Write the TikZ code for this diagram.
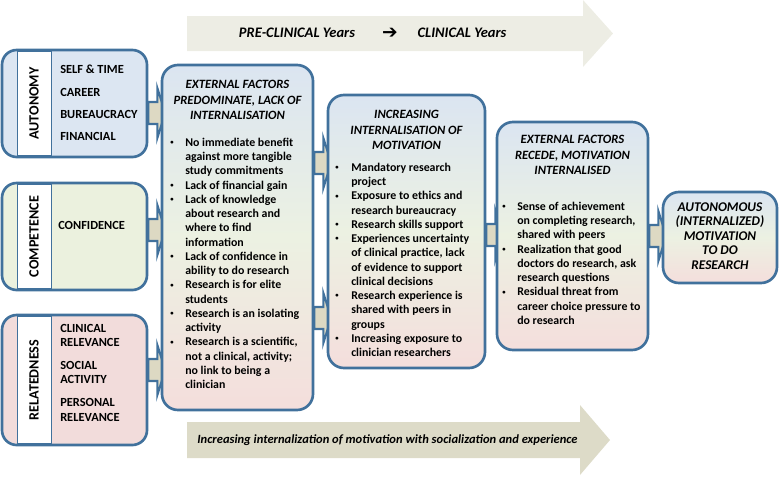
\documentclass[tikz,border=0pt]{standalone}
\usepackage{fontspec}
\setmainfont{Carlito}
\newfontfamily\dingfont{DejaVu Sans}
\usetikzlibrary{fit,backgrounds}

\definecolor{boxline}{RGB}{65,113,156}
\definecolor{autofill}{RGB}{220,230,242}
\definecolor{compfill}{RGB}{235,241,222}
\definecolor{relfill}{RGB}{242,220,219}
\definecolor{stagetop}{RGB}{219,229,241}
\definecolor{stagemid}{RGB}{236,241,226}
\definecolor{stagebot}{RGB}{244,222,220}
\definecolor{arrowfill}{RGB}{221,217,195}
\definecolor{timefill}{RGB}{237,237,228}
\definecolor{growfill}{RGB}{221,219,200}

\newcommand{\bul}{\raisebox{0.3ex}{\fontsize{5}{5}\selectfont\textbullet} &}
\newcommand{\blockarrow}[2]{\draw[blockarr] (#1.east |- 0,#2) ++(0,-11) -- ++(9,0) -- ++(0,-14) -- ++(8,25) -- ++(-8,25) -- ++(0,-14) -- ++(-9,0) -- cycle;}

\tikzset{
  needbox/.style={draw=boxline, line width=2pt, rounded corners=11pt, inner sep=0pt, fill=#1},
  stagebox/.style={draw=boxline, line width=2pt, rounded corners=12pt, inner sep=0pt,
                   top color=stagetop, bottom color=stagebot, middle color=stagemid},
  namestrip/.style={draw=boxline, line width=0.7pt, fill=white, inner sep=0pt},
  needname/.style={rotate=90, inner sep=0pt, font=\bfseries\fontsize{10.6}{11}\selectfont},
  needitems/.style={anchor=west, inner sep=0pt, font=\bfseries\fontsize{9.3}{10.7}\selectfont},
  stagehead/.style={anchor=north, inner sep=0pt, font=\bfseries\itshape\fontsize{9.5}{11.4}\selectfont},
  stageitems/.style={anchor=north west, inner sep=0pt, font=\bfseries\fontsize{8.9}{10.7}\selectfont},
  blockarr/.style={draw=boxline, line width=1.6pt, fill=arrowfill, line join=miter},
  bandtext/.style={inner sep=0pt, font=\bfseries\itshape\fontsize{10.9}{12}\selectfont},
}

\begin{document}
\begin{tikzpicture}[x=0.75pt,y=-0.75pt]
  \useasboundingbox (0,0) rectangle (779,476);

  % time bands
  \fill[timefill] (187,16) -- (583,16) -- (583,0) -- (613,33.5) -- (583,67) -- (583,51) -- (187,51) -- cycle;
  \fill[growfill] (187,422) -- (580,422) -- (580,405) -- (610,440) -- (580,475) -- (580,458) -- (187,458) -- cycle;
  \node[bandtext] (preclin) at (297,33) {PRE-CLINICAL Years};
  \node[inner sep=0pt, font=\dingfont\bfseries\fontsize{14}{14}\selectfont] (yearsarrow) at (390,33) {➔};
  \node[bandtext] (clin) at (462,33) {CLINICAL Years};
  \node[bandtext, font=\bfseries\itshape\fontsize{9.4}{12}\selectfont] (growtext) at (387.5,440) {Increasing internalization of motivation with socialization and experience};

  % needs
  \node[needbox=autofill, fit={(2,50) (147,157)}] (auto) {};
  \node[needbox=compfill, fit={(2,183) (147,290)}] (comp) {};
  \node[needbox=relfill, fit={(2,315) (147,445)}] (rel) {};
  \node[namestrip, fit={(17,51.3) (51,155.7)}] (autostrip) {};
  \node[namestrip, fit={(17,184.3) (51,288.7)}] (compstrip) {};
  \node[namestrip, fit={(17,316.3) (51,443.7)}] (relstrip) {};
  \node[needname] (autoname) at (autostrip) {AUTONOMY};
  \node[needname] (compname) at (compstrip) {COMPETENCE};
  \node[needname] (relname) at (relstrip) {RELATEDNESS};
  \node[needitems] (autoitems) at (60,104.5) {\begin{tabular}{@{}l@{}}
    SELF \& TIME\\[6pt]
    CAREER\\[6pt]
    BUREAUCRACY\\[6pt]
    FINANCIAL
  \end{tabular}};
  \node[needitems] (compitems) at (58,225) {CONFIDENCE};
  \node[needitems] (relitems) at (60,374) {\begin{tabular}{@{}l@{}}
    CLINICAL\\
    RELEVANCE\\[6.5pt]
    SOCIAL\\
    ACTIVITY\\[6.5pt]
    PERSONAL\\
    RELEVANCE
  \end{tabular}};

  % stages
  \node[stagebox, fit={(162,65) (313,410)}] (external) {};
  \node[stagebox, fit={(328,95) (485,368)}] (increasing) {};
  \node[stagebox, fit={(497,122) (648,350)}] (recede) {};
  \node[stagebox, fit={(663,192) (777,283)}] (goal) {};

  \node[stagehead] (externalhead) at (237.5,78) {\begin{tabular}{@{}c@{}}
    EXTERNAL FACTORS\\ PREDOMINATE, LACK OF\\ INTERNALISATION
  \end{tabular}};
  \node[stageitems] (externalitems) at (170,136) {\begin{tabular}{@{}p{11.25pt}@{}l@{}}
    \bul No immediate benefit\\
        & against more tangible\\
        & study commitments\\
    \bul Lack of financial gain\\
    \bul Lack of knowledge\\
        & about research and\\
        & where to find\\
        & information\\
    \bul Lack of confidence in\\
        & ability to do research\\
    \bul Research is for elite\\
        & students\\
    \bul Research is an isolating\\
        & activity\\
    \bul Research is a scientific,\\
        & not a clinical, activity;\\
        & no link to being a\\
        & clinician
  \end{tabular}};

  \node[stagehead] (increasinghead) at (406.5,108) {\begin{tabular}{@{}c@{}}
    INCREASING\\ INTERNALISATION OF\\ MOTIVATION
  \end{tabular}};
  \node[stageitems] (increasingitems) at (335,161) {\begin{tabular}{@{}p{12pt}@{}l@{}}
    \bul Mandatory research\\
        & project\\
    \bul Exposure to ethics and\\
        & research bureaucracy\\
    \bul Research skills support\\
    \bul Experiences uncertainty\\
        & of clinical practice, lack\\
        & of evidence to support\\
        & clinical decisions\\
    \bul Research experience is\\
        & shared with peers in\\
        & groups\\
    \bul Increasing exposure to\\
        & clinician researchers
  \end{tabular}};

  \node[stagehead] (recedehead) at (572.5,133) {\begin{tabular}{@{}c@{}}
    EXTERNAL FACTORS\\ RECEDE, MOTIVATION\\ INTERNALISED
  \end{tabular}};
  \node[stageitems] (recedeitems) at (502,200) {\begin{tabular}{@{}p{11.25pt}@{}l@{}}
    \bul Sense of achievement\\
        & on completing research,\\
        & shared with peers\\
    \bul Realization that good\\
        & doctors do research, ask\\
        & research questions\\
    \bul Residual threat from\\
        & career choice pressure to\\
        & do research
  \end{tabular}};

  \node[inner sep=0pt, font=\bfseries\itshape\fontsize{10}{10.9}\selectfont] (goaltext) at (goal) {\begin{tabular}{@{}c@{}}
    AUTONOMOUS\\ (INTERNALIZED)\\ MOTIVATION\\ TO DO\\ RESEARCH
  \end{tabular}};

  % block arrows behind the boxes
  \begin{scope}[on background layer]
    \blockarrow{auto}{113}
    \blockarrow{comp}{230}
    \blockarrow{rel}{370}
    \blockarrow{external}{163}
    \blockarrow{external}{318}
    \blockarrow{increasing}{235}
    \blockarrow{recede}{236}
  \end{scope}
\end{tikzpicture}
\end{document}
